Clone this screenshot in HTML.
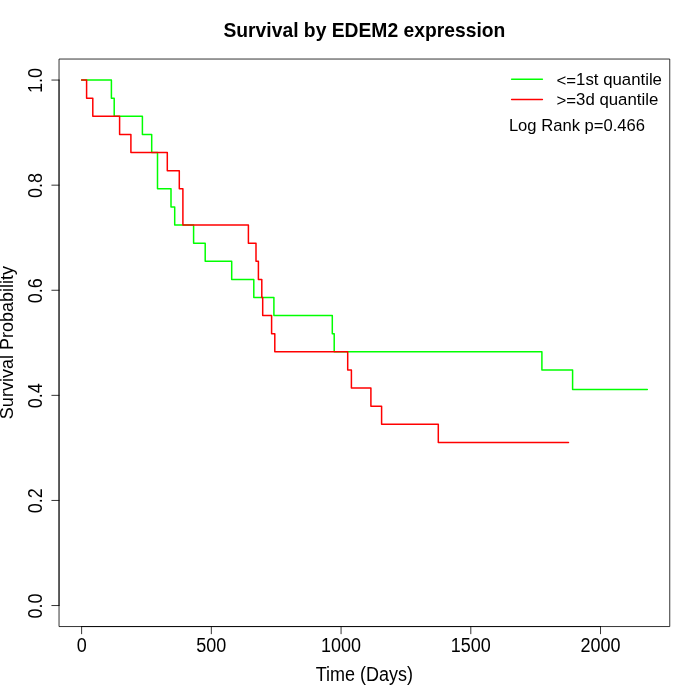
<!DOCTYPE html>
<html><head><meta charset="utf-8"><style>html,body{margin:0;padding:0;background:#fff;width:700px;height:700px;overflow:hidden}svg{display:block;will-change:transform}</style></head><body>
<svg width="700" height="700" viewBox="0 0 700 700">
<rect width="700" height="700" fill="#fff"/>
<path d="M81.62,80.06 H111.40 V98.18 H114.20 V116.30 H142.40 V134.42 H151.70 V152.54 H157.50 V188.78 H171.00 V206.90 H174.70 V225.02 H193.60 V243.14 H205.20 V261.26 H231.70 V279.38 H253.80 V297.50 H273.90 V315.62 H332.30 V333.74 H334.20 V351.86 H541.90 V369.98 H572.60 V389.61 H647.30" fill="none" stroke="#00ff00" stroke-width="1.5" stroke-linejoin="round" stroke-linecap="round"/>
<path d="M81.62,80.06 H86.60 V98.18 H92.80 V116.30 H119.60 V134.42 H130.90 V152.54 H167.30 V170.66 H179.30 V188.78 H182.90 V225.02 H248.40 V243.14 H256.00 V261.26 H258.40 V279.38 H261.80 V297.50 H262.70 V315.62 H271.60 V333.74 H274.80 V351.86 H347.70 V369.98 H351.40 V388.10 H370.90 V406.22 H381.60 V424.34 H438.30 V442.46 H568.50" fill="none" stroke="#ff0000" stroke-width="1.5" stroke-linejoin="round" stroke-linecap="round"/>
<rect x="59.04" y="59.04" width="610.72" height="567.52" fill="none" stroke="#000" stroke-width="0.8" stroke-linejoin="round"/>
<path d="M81.62,626.56 H600.52" stroke="#000" stroke-width="0.8" stroke-linecap="round" fill="none"/>
<path d="M81.62,626.56 V633.76" stroke="#000" stroke-width="0.8" stroke-linecap="round"/>
<text transform="translate(81.62,652) scale(1,1.1)" font-family="Liberation Sans" font-size="18" text-anchor="middle">0</text>
<path d="M211.34,626.56 V633.76" stroke="#000" stroke-width="0.8" stroke-linecap="round"/>
<text transform="translate(211.34,652) scale(1,1.1)" font-family="Liberation Sans" font-size="18" text-anchor="middle">500</text>
<path d="M341.07,626.56 V633.76" stroke="#000" stroke-width="0.8" stroke-linecap="round"/>
<text transform="translate(341.07,652) scale(1,1.1)" font-family="Liberation Sans" font-size="18" text-anchor="middle">1000</text>
<path d="M470.80,626.56 V633.76" stroke="#000" stroke-width="0.8" stroke-linecap="round"/>
<text transform="translate(470.80,652) scale(1,1.1)" font-family="Liberation Sans" font-size="18" text-anchor="middle">1500</text>
<path d="M600.52,626.56 V633.76" stroke="#000" stroke-width="0.8" stroke-linecap="round"/>
<text transform="translate(600.52,652) scale(1,1.1)" font-family="Liberation Sans" font-size="18" text-anchor="middle">2000</text>
<path d="M59.04,605.54 V80.06" stroke="#000" stroke-width="0.8" stroke-linecap="round" fill="none"/>
<path d="M59.04,605.54 H51.84" stroke="#000" stroke-width="0.8" stroke-linecap="round"/>
<text transform="translate(41.5,605.94) rotate(-90) scale(1,1.1)" font-family="Liberation Sans" font-size="18" text-anchor="middle">0.0</text>
<path d="M59.04,500.44 H51.84" stroke="#000" stroke-width="0.8" stroke-linecap="round"/>
<text transform="translate(41.5,500.84) rotate(-90) scale(1,1.1)" font-family="Liberation Sans" font-size="18" text-anchor="middle">0.2</text>
<path d="M59.04,395.35 H51.84" stroke="#000" stroke-width="0.8" stroke-linecap="round"/>
<text transform="translate(41.5,395.75) rotate(-90) scale(1,1.1)" font-family="Liberation Sans" font-size="18" text-anchor="middle">0.4</text>
<path d="M59.04,290.25 H51.84" stroke="#000" stroke-width="0.8" stroke-linecap="round"/>
<text transform="translate(41.5,290.65) rotate(-90) scale(1,1.1)" font-family="Liberation Sans" font-size="18" text-anchor="middle">0.6</text>
<path d="M59.04,185.16 H51.84" stroke="#000" stroke-width="0.8" stroke-linecap="round"/>
<text transform="translate(41.5,185.56) rotate(-90) scale(1,1.1)" font-family="Liberation Sans" font-size="18" text-anchor="middle">0.8</text>
<path d="M59.04,80.06 H51.84" stroke="#000" stroke-width="0.8" stroke-linecap="round"/>
<text transform="translate(41.5,80.46) rotate(-90) scale(1,1.1)" font-family="Liberation Sans" font-size="18" text-anchor="middle">1.0</text>
<text x="364.4" y="36.7" font-family="Liberation Sans" font-weight="bold" font-size="19.3" text-anchor="middle">Survival by EDEM2 expression</text>
<text transform="translate(364.4,680.7) scale(1,1.1)" font-family="Liberation Sans" font-size="18" text-anchor="middle">Time (Days)</text>
<text transform="translate(12.9,342.6) rotate(-90)" font-family="Liberation Sans" font-size="18" text-anchor="middle">Survival Probability</text>
<path d="M511.6,79.3 H542.4" stroke="#00ff00" stroke-width="1.5" stroke-linecap="round"/>
<path d="M511.6,99.45 H542.4" stroke="#ff0000" stroke-width="1.5" stroke-linecap="round"/>
<text x="556.5" y="84.7" font-family="Liberation Sans" font-size="16.8"><tspan dy="1.4">&lt;=</tspan><tspan dy="-1.4">1st quantile</tspan></text>
<text x="556.5" y="104.8" font-family="Liberation Sans" font-size="16.8"><tspan dy="1.4">&gt;=</tspan><tspan dy="-1.4">3d quantile</tspan></text>
<text x="508.9" y="131" font-family="Liberation Sans" font-size="16.6">Log Rank p=0.466</text>
</svg>
</body></html>
